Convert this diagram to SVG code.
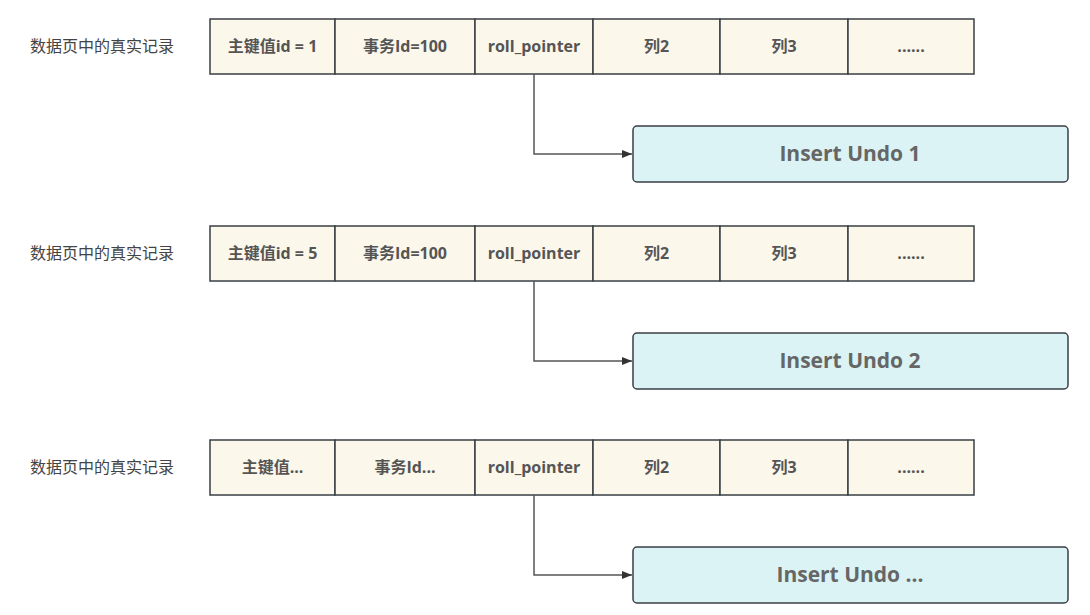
<svg xmlns="http://www.w3.org/2000/svg" width="1090" height="615" viewBox="0 0 1090 615">
<defs>
<style>
.lbl{font-family:"Noto Sans CJK SC","Open Sans",sans-serif;font-size:16px;fill:#444;}
.cell{fill:#FBF7EA;stroke:#3A3F44;stroke-width:1.5;}
.ct{font-family:"Open Sans","Noto Sans CJK SC",sans-serif;font-size:16px;font-weight:bold;fill:#555;text-anchor:middle;}
.undo{fill:#DBF3F4;stroke:#3A3F44;stroke-width:1.5;}
.ut{font-family:"Open Sans","Noto Sans CJK SC",sans-serif;font-size:21px;font-weight:bold;fill:#666;text-anchor:middle;}
.conn{fill:none;stroke:#555;stroke-width:1.5;}
</style>
<marker id="arr" viewBox="0 0 10 10" refX="10" refY="5" markerWidth="11" markerHeight="10" markerUnits="userSpaceOnUse" orient="auto">
<path d="M0,1 L10,5 L0,9 Z" fill="#333"/>
</marker>
</defs>
<rect width="1090" height="615" fill="#fff"/>

<g id="row1">
<text class="lbl" x="30" y="52">数据页中的真实记录</text>
<rect class="cell" x="210" y="19" width="125" height="55"/>
<rect class="cell" x="335" y="19" width="140" height="55"/>
<rect class="cell" x="475" y="19" width="118" height="55"/>
<rect class="cell" x="593" y="19" width="127" height="55"/>
<rect class="cell" x="720" y="19" width="128" height="55"/>
<rect class="cell" x="848" y="19" width="126" height="55"/>
<text class="ct" x="272.5" y="52">主键值id = 1</text>
<text class="ct" x="405" y="52">事务Id=100</text>
<text class="ct" x="534" y="52">roll_pointer</text>
<text class="ct" x="656.5" y="52">列2</text>
<text class="ct" x="784" y="52">列3</text>
<text class="ct" x="911" y="52">......</text>
</g>
<g id="undo1">
<rect class="undo" x="633" y="126" width="435" height="56" rx="4"/>
<text class="ut" x="850" y="161">Insert Undo 1</text>
</g>

<g id="row2">
<text class="lbl" x="30" y="259">数据页中的真实记录</text>
<rect class="cell" x="210" y="226" width="125" height="55"/>
<rect class="cell" x="335" y="226" width="140" height="55"/>
<rect class="cell" x="475" y="226" width="118" height="55"/>
<rect class="cell" x="593" y="226" width="127" height="55"/>
<rect class="cell" x="720" y="226" width="128" height="55"/>
<rect class="cell" x="848" y="226" width="126" height="55"/>
<text class="ct" x="272.5" y="259">主键值id = 5</text>
<text class="ct" x="405" y="259">事务Id=100</text>
<text class="ct" x="534" y="259">roll_pointer</text>
<text class="ct" x="656.5" y="259">列2</text>
<text class="ct" x="784" y="259">列3</text>
<text class="ct" x="911" y="259">......</text>
</g>
<g id="undo2">
<rect class="undo" x="633" y="333" width="435" height="56" rx="4"/>
<text class="ut" x="850" y="368">Insert Undo 2</text>
</g>

<g id="row3">
<text class="lbl" x="30" y="473">数据页中的真实记录</text>
<rect class="cell" x="210" y="440" width="125" height="55"/>
<rect class="cell" x="335" y="440" width="140" height="55"/>
<rect class="cell" x="475" y="440" width="118" height="55"/>
<rect class="cell" x="593" y="440" width="127" height="55"/>
<rect class="cell" x="720" y="440" width="128" height="55"/>
<rect class="cell" x="848" y="440" width="126" height="55"/>
<text class="ct" x="272.5" y="473">主键值...</text>
<text class="ct" x="405" y="473">事务Id...</text>
<text class="ct" x="534" y="473">roll_pointer</text>
<text class="ct" x="656.5" y="473">列2</text>
<text class="ct" x="784" y="473">列3</text>
<text class="ct" x="911" y="473">......</text>
</g>
<g id="undo3">
<rect class="undo" x="633" y="547" width="435" height="56" rx="4"/>
<text class="ut" x="850" y="582">Insert Undo ...</text>
</g>

<g id="connectors">
<path class="conn" d="M534,74 V154 H632" marker-end="url(#arr)"/>
<path class="conn" d="M534,281 V361 H632" marker-end="url(#arr)"/>
<path class="conn" d="M534,495 V575 H632" marker-end="url(#arr)"/>
</g>
</svg>
